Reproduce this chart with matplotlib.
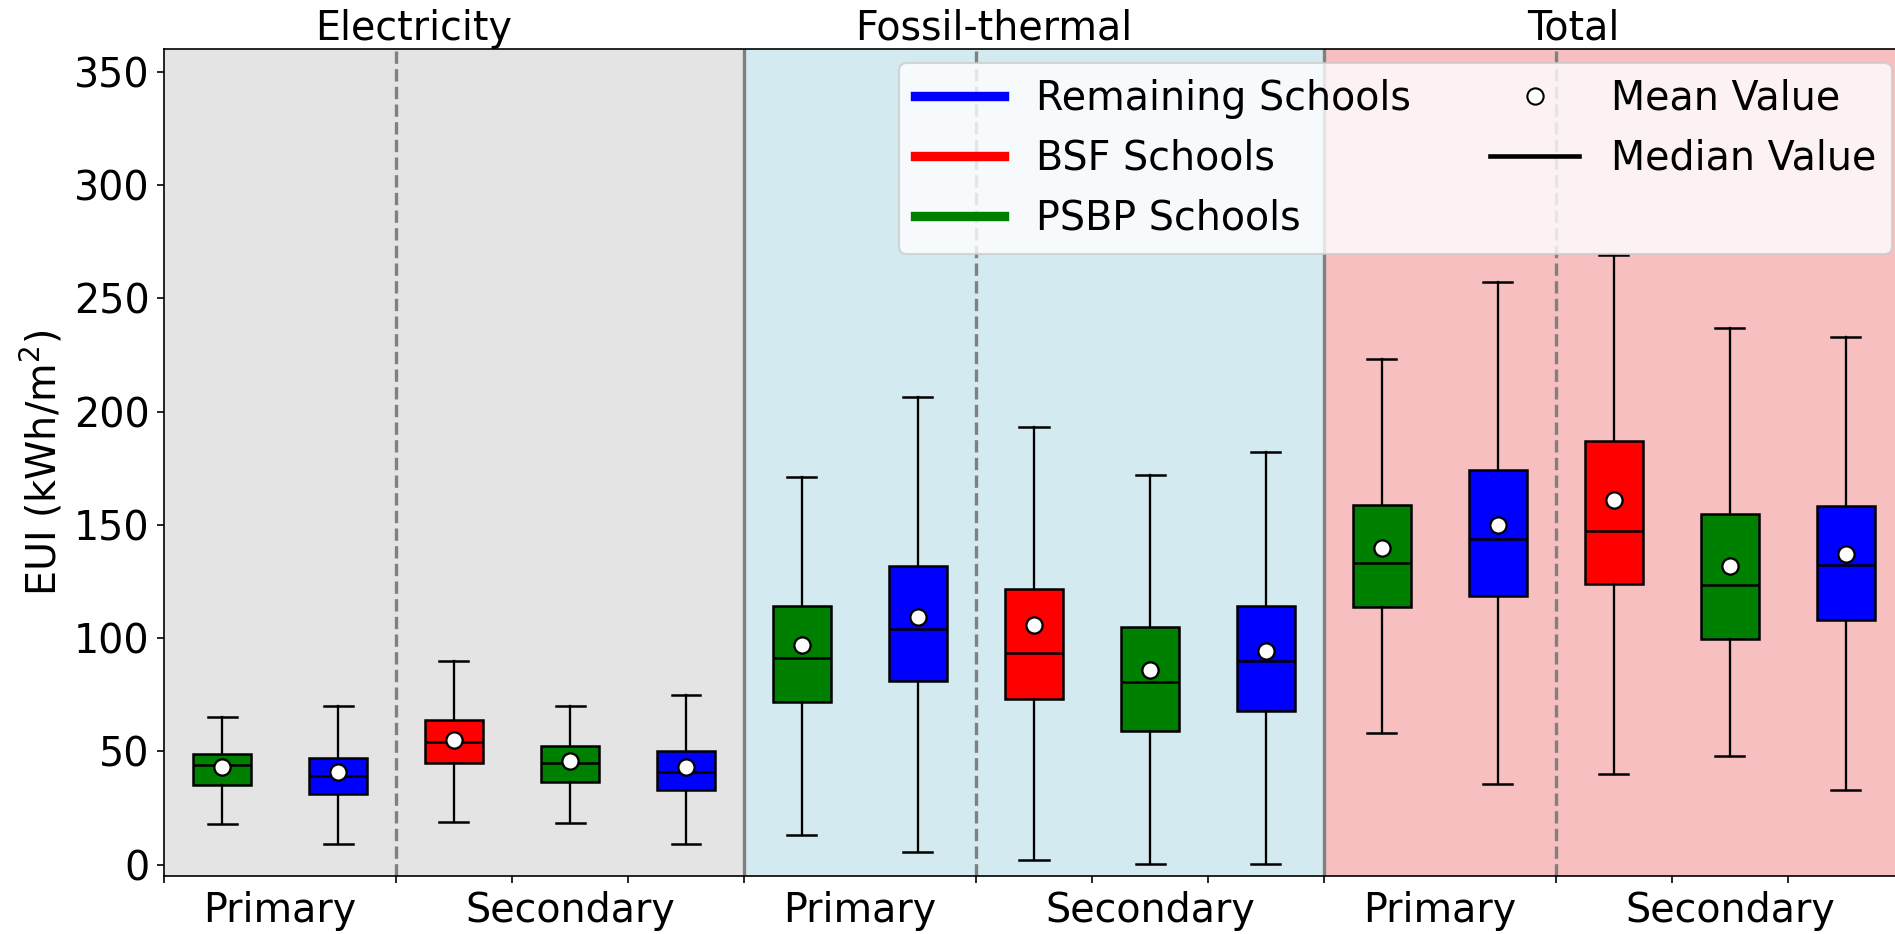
import matplotlib
matplotlib.use("Agg")
import matplotlib.pyplot as plt
from matplotlib.lines import Line2D

plt.rcParams["font.family"] = ["DejaVu Sans"]
plt.rcParams["font.size"] = 19

# Energy-use groups and school phases
panels = ["Electricity", "Fossil-thermal", "Total"]
phases = ["Primary", "Secondary"]

# School programme drawn in each box, left to right within one energy group
box_series = ["PSBP", "Remaining", "BSF", "PSBP", "Remaining"]
series_colors = {"Remaining": "blue", "BSF": "red", "PSBP": "green"}
series_labels = {"Remaining": "Remaining Schools", "BSF": "BSF Schools",
                 "PSBP": "PSBP Schools"}

# Box statistics (kWh/m2), Electricity | Fossil-thermal | Total
whisker_low = [18.1, 9.1, 19.0, 18.4, 9.1,
               13.1, 5.6, 2.1, 0.1, 0.1,
               58.3, 35.6, 39.8, 48.0, 33.0]
quartile_1 = [35.0, 31.3, 44.7, 36.6, 32.9,
              71.8, 81.1, 73.3, 59.2, 68.0,
              113.7, 118.6, 123.7, 99.4, 107.9]
median = [44.1, 39.0, 54.0, 45.0, 41.0,
          91.2, 104.2, 93.4, 80.6, 89.9,
          133.3, 143.9, 147.4, 123.4, 132.4]
quartile_3 = [49.0, 47.1, 63.8, 52.2, 50.2,
              114.1, 131.6, 121.6, 104.9, 114.1,
              158.9, 174.0, 186.9, 154.7, 158.3]
whisker_high = [65.0, 70.0, 90.0, 70.0, 75.0,
                171.1, 206.2, 193.1, 172.2, 182.1,
                223.4, 257.1, 269.2, 237.0, 232.9]
mean = [42.9, 40.7, 55.0, 45.9, 43.1,
        96.9, 109.1, 106.0, 85.9, 94.1,
        139.7, 149.7, 160.9, 132.0, 137.3]

y_ticks = [0, 50, 100, 150, 200, 250, 300, 350]

W, H, DPI = 1895, 934, 150
fig = plt.figure(figsize=(W / DPI, H / DPI), dpi=DPI)
ax = fig.add_axes([164 / W, 1 - 876 / H, (1904 - 164) / W, (876 - 49) / H])

n_boxes = len(median)
per_panel = len(box_series)
span = per_panel
positions = [i + 0.5 for i in range(n_boxes)]

# Panel backgrounds and separators
bg = [("lightgray", 0.6), ("lightblue", 0.52), ("lightcoral", 0.5)]
for k, (c, a) in enumerate(bg):
    ax.axvspan(k * span, (k + 1) * span, color=c, alpha=a, lw=0, zorder=0)
for k in range(1, len(panels)):
    ax.axvline(k * span, color="gray", lw=1.6, zorder=1)
for k in range(len(panels)):
    ax.axvline(k * span + 2, color="gray", lw=1.6, ls="--", zorder=1)

stats = []
for i in range(n_boxes):
    stats.append(dict(whislo=whisker_low[i], q1=quartile_1[i], med=median[i],
                      q3=quartile_3[i], whishi=whisker_high[i], mean=mean[i],
                      fliers=[]))

bp = ax.bxp(stats, positions=positions, widths=0.5, patch_artist=True,
            showmeans=True, showfliers=False, manage_ticks=False,
            boxprops=dict(edgecolor="black", linewidth=1.2),
            medianprops=dict(color="black", linewidth=1.2),
            whiskerprops=dict(color="black", linewidth=1.1),
            capprops=dict(color="black", linewidth=1.2),
            meanprops=dict(marker="o", markerfacecolor="white",
                           markeredgecolor="black", markersize=7.8,
                           markeredgewidth=1.1))
for i, patch in enumerate(bp["boxes"]):
    patch.set_facecolor(series_colors[box_series[i % per_panel]])
for artists in bp.values():
    for a in artists:
        a.set_zorder(3)

ax.set_xlim(0, len(panels) * span)
ax.set_ylim(-5, 360)
ax.set_yticks(y_ticks)
ax.set_ylabel("EUI (kWh/m$^2$)")

# Boundary ticks (unlabelled) and phase labels
ax.set_xticks(range(0, len(panels) * span + 1), minor=True)
ax.tick_params(axis="x", which="minor", length=3.5, width=0.8)
label_pos, label_txt = [], []
for k in range(len(panels)):
    label_pos += [k * span + 1.0, k * span + 3.5]
    label_txt += phases
ax.set_xticks(label_pos)
ax.set_xticklabels(label_txt)
ax.tick_params(axis="x", which="major", length=0, pad=7)

# Panel titles
for k, name in enumerate(panels):
    ax.text(k * span + 2.15, 1.0, name, transform=ax.get_xaxis_transform(),
            ha="center", va="bottom")

handles = [Line2D([0], [0], color=series_colors[s], lw=4.5)
           for s in ["Remaining", "BSF", "PSBP"]]
labels = [series_labels[s] for s in ["Remaining", "BSF", "PSBP"]]
handles += [Line2D([0], [0], ls="None", marker="o", markerfacecolor="white",
                   markeredgecolor="black", markersize=7.8),
            Line2D([0], [0], color="black", lw=2.2)]
labels += ["Mean Value", "Median Value"]
leg = ax.legend(handles, labels, ncol=2, loc="upper right",
                bbox_to_anchor=(1892 / W, 1 - 63 / H),
                bbox_transform=fig.transFigure, borderaxespad=0,
                handlelength=2.25)
leg.set_zorder(5)

fig.savefig("out.png", dpi=DPI)
